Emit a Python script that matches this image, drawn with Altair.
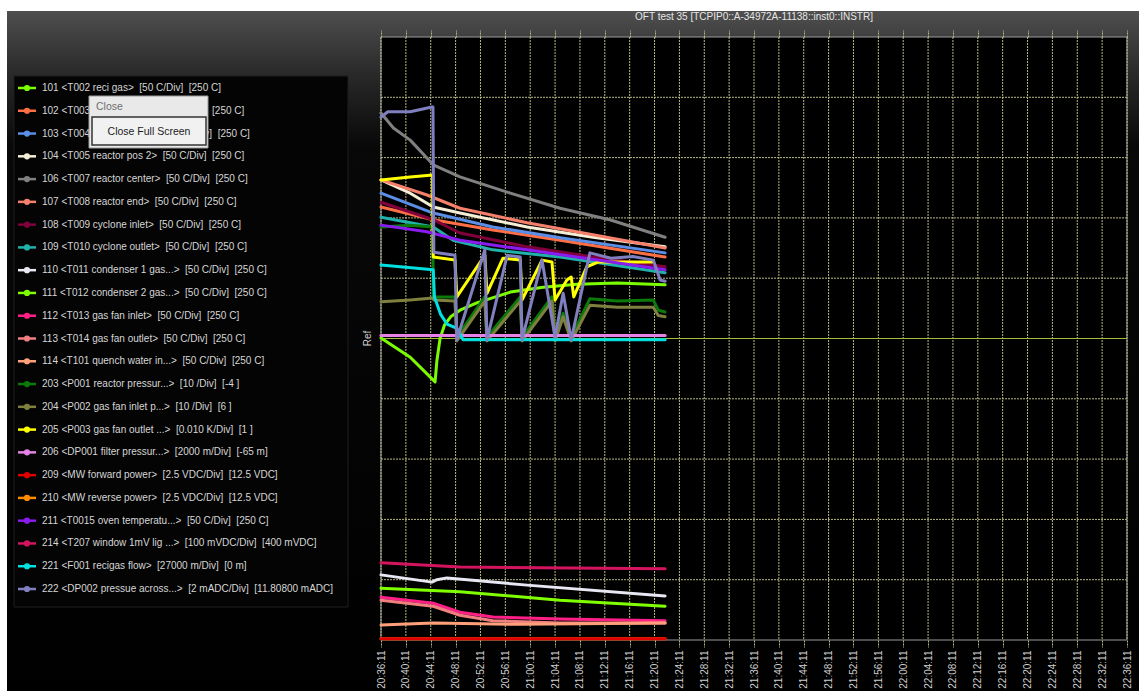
import altair as alt
import pandas as pd

# ---------------------------------------------------------------------------
# Recorder settings
# ---------------------------------------------------------------------------
TITLE = "OFT test 35 [TCPIP0::A-34972A-11138::inst0::INSTR]"
START_CLOCK = "20:36:11"          # left edge of the time axis
SPAN_MIN = 120                    # minutes shown across the screen
TICK_STEP_MIN = 4                 # minutes per vertical division
DIV_HALF = 5                      # divisions above / below the Ref line

# ---------------------------------------------------------------------------
# Channels (legend order)
# ---------------------------------------------------------------------------
keys = ["s101", "s102", "s103", "s104", "s106", "s107", "s108", "s109",
        "s110", "s111", "s112", "s113", "s114", "s203", "s204", "s205",
        "s206", "s209", "s210", "s211", "s214", "s221", "s222"]
GAP = "\u00a0 "   # the recorder pads the two bracket fields with a double space
labels = [
    "101 <T002 reci gas>" + GAP + "[50 C/Div]" + GAP + "[250 C]",
    "102 <T003 reactor pos 1>" + GAP + "[50 C/Div]" + GAP + "[250 C]",
    "103 <T004 reactor pos 1b>" + GAP + "[50 C/Div]" + GAP + "[250 C]",
    "104 <T005 reactor pos 2>" + GAP + "[50 C/Div]" + GAP + "[250 C]",
    "106 <T007 reactor center>" + GAP + "[50 C/Div]" + GAP + "[250 C]",
    "107 <T008 reactor end>" + GAP + "[50 C/Div]" + GAP + "[250 C]",
    "108 <T009 cyclone inlet>" + GAP + "[50 C/Div]" + GAP + "[250 C]",
    "109 <T010 cyclone outlet>" + GAP + "[50 C/Div]" + GAP + "[250 C]",
    "110 <T011 condenser 1 gas...>" + GAP + "[50 C/Div]" + GAP + "[250 C]",
    "111 <T012 condenser 2 gas...>" + GAP + "[50 C/Div]" + GAP + "[250 C]",
    "112 <T013 gas fan inlet>" + GAP + "[50 C/Div]" + GAP + "[250 C]",
    "113 <T014 gas fan outlet>" + GAP + "[50 C/Div]" + GAP + "[250 C]",
    "114 <T101 quench water in...>" + GAP + "[50 C/Div]" + GAP + "[250 C]",
    "203 <P001 reactor pressur...>" + GAP + "[10 /Div]" + GAP + "[-4 ]",
    "204 <P002 gas fan inlet p...>" + GAP + "[10 /Div]" + GAP + "[6 ]",
    "205 <P003 gas fan outlet ...>" + GAP + "[0.010 K/Div]" + GAP + "[1 ]",
    "206 <DP001 filter pressur...>" + GAP + "[2000 m/Div]" + GAP + "[-65 m]",
    "209 <MW forward power>" + GAP + "[2.5 VDC/Div]" + GAP + "[12.5 VDC]",
    "210 <MW reverse power>" + GAP + "[2.5 VDC/Div]" + GAP + "[12.5 VDC]",
    "211 <T0015 oven temperatu...>" + GAP + "[50 C/Div]" + GAP + "[250 C]",
    "214 <T207 window 1mV lig ...>" + GAP + "[100 mVDC/Div]" + GAP + "[400 mVDC]",
    "221 <F001 recigas flow>" + GAP + "[27000 m/Div]" + GAP + "[0 m]",
    "222 <DP002 pressue across...>" + GAP + "[2 mADC/Div]" + GAP + "[11.80800 mADC]",
]
colors = ["#7cfc00", "#ff6f45", "#5b8ee6", "#f4eed6", "#808080", "#f7806c",
          "#80003c", "#20b2aa", "#e8e8f4", "#7fff00", "#ff1f86", "#f08080",
          "#ffa07a", "#0b7a0b", "#7f7f3f", "#ffff00", "#e682e6", "#e00000",
          "#ff8c00", "#8a1cf0", "#d4145f", "#00e0e0", "#8080c0"]
widths = [3, 3, 3, 3, 5, 3, 3, 3, 3.5, 3, 3.5, 3, 3, 3.5, 3, 3, 3, 4, 3, 3, 3.5, 3, 3]

# drawing order of the traces (forward power is painted over reverse power)
draw_order = ["s101", "s102", "s103", "s104", "s106", "s107", "s108", "s109",
              "s110", "s111", "s112", "s113", "s114", "s203", "s204", "s205",
              "s206", "s210", "s209", "s211", "s214", "s221", "s222"]

# ---------------------------------------------------------------------------
# Recorded traces: minutes after START_CLOCK, divisions from the Ref line
# ---------------------------------------------------------------------------
T101 = [0, 4.7, 8.7, 9.0, 9.5, 10.2, 11.2, 12.7, 15.4, 20.8, 26.1, 31.5, 38.0, 45.7]
V101 = [0.01, -0.31, -0.72, -0.36, 0.0, 0.22, 0.36, 0.47, 0.59, 0.77, 0.85, 0.90, 0.92, 0.89]

T102 = [0, 8.4, 18.0, 28.8, 45.7]
V102 = [2.18, 1.97, 1.80, 1.63, 1.35]

T103 = [0, 8.4, 18.0, 28.8, 45.7]
V103 = [2.41, 2.08, 1.85, 1.67, 1.42]

T104 = [0, 4.7, 8.4, 12.7, 23.5, 34.1, 45.7]
V104 = [2.63, 2.41, 2.18, 2.08, 1.85, 1.68, 1.52]

T106 = [0, 2.0, 4.7, 8.4, 12.7, 20.8, 28.8, 36.8, 45.7]
V106 = [3.74, 3.49, 3.29, 2.88, 2.68, 2.41, 2.16, 1.97, 1.68]

T107 = [0, 7.4, 12.7, 23.5, 34.1, 45.7]
V107 = [2.63, 2.38, 2.16, 1.92, 1.72, 1.50]

T108 = [0, 8.4, 12.7, 23.5, 34.1, 45.7]
V108 = [2.26, 1.97, 1.75, 1.52, 1.35, 1.19]

T109 = [0, 8.4, 11.6, 18.0, 28.8, 45.7]
V109 = [2.01, 1.85, 1.63, 1.47, 1.35, 1.09]

T110 = [0, 8.2, 9.0, 10.6, 23.5, 45.7]
V110 = [-3.92, -4.04, -4.00, -3.97, -4.09, -4.27]

T111 = [0, 12.7, 28.8, 45.7]
V111 = [-4.14, -4.20, -4.34, -4.44]

T112 = [0, 8.4, 12.7, 18.0, 28.8, 45.7]
V112 = [-4.29, -4.39, -4.54, -4.62, -4.65, -4.68]

T113 = [0, 8.4, 12.7, 18.0, 28.8, 45.7]
V113 = [-4.34, -4.44, -4.59, -4.68, -4.72, -4.72]

T114 = [0, 8.4, 22.4, 45.7]
V114 = [-4.75, -4.72, -4.74, -4.72]

T203 = [0, 4.7, 8.3, 8.45, 11.9, 12.2, 16.7, 17.05, 22.4, 22.7, 27.5, 28.0, 29.3, 30.6, 33.6, 38.0, 43.8, 44.6, 45.7]
V203 = [1.85, 1.88, 1.85, 0.69, 0.69, 0.02, 0.69, 0.02, 0.69, 0.02, 0.69, 0.02, 0.42, 0.02, 0.66, 0.62, 0.64, 0.47, 0.44]

T204 = [0, 4.7, 8.3, 8.5, 11.9, 12.2, 16.7, 17.05, 22.4, 22.7, 27.5, 28.0, 29.3, 30.6, 33.6, 38.0, 43.8, 44.6, 45.7]
V204 = [0.61, 0.64, 0.67, 0.64, 0.62, -0.04, 0.62, -0.04, 0.62, -0.04, 0.62, -0.04, 0.36, -0.04, 0.55, 0.52, 0.52, 0.38, 0.36]

T205 = [0, 4.7, 8.3, 8.4, 11.9, 12.2, 16.7, 17.05, 19.6, 22.4, 22.7, 25.9, 27.5, 28.0, 29.9, 30.6, 31.0, 33.1, 35.0, 43.8]
V205 = [2.63, 2.68, 2.71, 1.35, 1.30, 0.69, 1.38, 0.75, 1.33, 1.30, 0.64, 1.30, 1.27, 0.64, 0.97, 1.02, 0.69, 1.19, 1.27, 1.27]

T206 = [0, 45.7]
V206 = [0.05, 0.05]

T209 = [0, 45.7]
V209 = [-4.98, -4.98]

T210 = [0, 45.7]
V210 = [-4.98, -4.98]

T211 = [0, 7.4, 12.7, 23.5, 45.7]
V211 = [1.88, 1.77, 1.63, 1.47, 1.14]

T214 = [0, 12.7, 45.7]
V214 = [-3.72, -3.79, -3.82]

T221 = [0, 8.4, 8.6, 9.6, 10.6, 12.2, 13.2, 45.7]
V221 = [1.22, 1.14, 0.69, 0.40, 0.24, 0.17, -0.02, -0.02]

T222 = [0, 1.1, 4.7, 8.2, 8.36, 8.5, 11.9, 12.2, 16.7, 17.05, 20.3, 22.4, 22.7, 25.9, 28.0, 29.3, 30.6, 33.6, 37.0, 40.5, 43.8, 44.9, 45.7]
V222 = [3.67, 3.76, 3.76, 3.84, 3.84, 1.43, 1.38, -0.02, 1.47, -0.02, 1.38, 1.35, -0.02, 1.30, 0.02, 0.75, -0.02, 1.42, 1.33, 1.36, 1.30, 0.97, 0.95]

traces = {
    "s101": (T101, V101), "s102": (T102, V102), "s103": (T103, V103),
    "s104": (T104, V104), "s106": (T106, V106), "s107": (T107, V107),
    "s108": (T108, V108), "s109": (T109, V109), "s110": (T110, V110),
    "s111": (T111, V111), "s112": (T112, V112), "s113": (T113, V113),
    "s114": (T114, V114), "s203": (T203, V203), "s204": (T204, V204),
    "s205": (T205, V205), "s206": (T206, V206), "s209": (T209, V209),
    "s210": (T210, V210), "s211": (T211, V211), "s214": (T214, V214),
    "s221": (T221, V221), "s222": (T222, V222),
}

# ---------------------------------------------------------------------------
# Tables
# ---------------------------------------------------------------------------
rows = []
for k in draw_order:
    ts, vs = traces[k]
    for i, (t, v) in enumerate(zip(ts, vs)):
        rows.append({"key": k, "i": i, "t": t, "v": v})
trace_df = pd.DataFrame(rows)

time_ticks = list(range(0, SPAN_MIN + 1, TICK_STEP_MIN))
div_ticks = list(range(-DIV_HALF + 1, DIV_HALF))
vgrid_df = pd.DataFrame({"t": time_ticks})
hgrid_df = pd.DataFrame({"v": [d for d in div_ticks if d != 0]})
legend_df = pd.DataFrame({"idx": list(range(len(keys))), "key": keys, "label": labels})
one = pd.DataFrame({"k": [0]})

h, m, s = (int(p) for p in START_CLOCK.split(":"))
start_s = h * 3600 + m * 60 + s
clock_expr = f"utcFormat(({start_s} + datum.value * 60) * 1000, '%H:%M:%S')"

W, H = 746, 603
FONT = "Liberation Sans"
GRID = "#b9b985"
x_scale = alt.Scale(domain=[0, SPAN_MIN], nice=False, zero=False)
y_scale = alt.Scale(domain=[-DIV_HALF, DIV_HALF], nice=False, zero=False)
color_scale = alt.Scale(domain=keys, range=colors)

# ---------------------------------------------------------------------------
# Screen furniture
# ---------------------------------------------------------------------------
panel = alt.Chart(one).mark_rect(
    fill={"gradient": "linear", "x1": 0, "x2": 0, "y1": 0, "y2": 1,
          "stops": [{"offset": 0, "color": "#4f4f4f"},
                    {"offset": 0.09, "color": "#2a2a2a"},
                    {"offset": 0.2, "color": "#080808"},
                    {"offset": 1, "color": "#000000"}]}
).encode(x=alt.value(-374), x2=alt.value(W + 12), y=alt.value(-26), y2=alt.value(H + 51))

legend_box = alt.Chart(one).mark_rect(fill="#040404", stroke="#1e1e1e", strokeWidth=1).encode(
    x=alt.value(-367), x2=alt.value(-33), y=alt.value(39), y2=alt.value(570))

plot_bg = alt.Chart(one).mark_rect(fill="#000000").encode(
    x=alt.value(0), x2=alt.value(W), y=alt.value(0), y2=alt.value(H))

frame = alt.Chart(one).mark_rect(fillOpacity=0, stroke="#9c9c9c", strokeWidth=1).encode(
    x=alt.value(0), x2=alt.value(W), y=alt.value(0), y2=alt.value(H))

vgrid = alt.Chart(vgrid_df).mark_rule(color=GRID, strokeWidth=1, strokeDash=[2, 1]).encode(
    x=alt.X("t:Q", scale=x_scale,
            axis=alt.Axis(orient="top", values=time_ticks, labels=False, title=None,
                          domain=False, grid=False, ticks=True, tickSize=7,
                          tickColor=GRID, tickDash=[2, 1], zindex=1)))

hgrid = alt.Chart(hgrid_df).mark_rule(color=GRID, strokeWidth=1, strokeDash=[2, 1]).encode(
    y=alt.Y("v:Q", scale=y_scale,
            axis=alt.Axis(values=div_ticks, labels=False, title=None, domain=False,
                          grid=False, ticks=True, tickSize=6, tickColor=GRID,
                          tickDash=[2, 1], zindex=1)))

ref_line = alt.Chart(one).mark_rule(color="#a6ba3c", strokeWidth=1.2).encode(
    y=alt.datum(0, scale=y_scale))

ref_text = alt.Chart(one).mark_text(
    angle=270, align="center", baseline="middle", font=FONT, fontSize=10, color="#d0d0d0"
).encode(x=alt.value(-13.5), y=alt.datum(0), text=alt.value("Ref"))

title = alt.Chart(one).mark_text(
    align="center", baseline="middle", font=FONT, fontSize=10, color="#e6e6e6"
).encode(x=alt.value(W / 2), y=alt.value(-20), text=alt.value(TITLE))

lines = alt.Chart(trace_df).mark_line(strokeJoin="round", strokeCap="round").encode(
    x=alt.X("t:Q", scale=x_scale,
            axis=alt.Axis(values=time_ticks, labelExpr=clock_expr, labelAngle=270,
                          labelColor="#cfcfcf", labelFont=FONT, labelFontSize=10,
                          labelPadding=3, labelOverlap=False, labelFlush=False,
                          labelBound=False, domain=False, grid=False, tickSize=7,
                          tickColor=GRID, tickDash=[2, 1], title=None, zindex=1)),
    y=alt.Y("v:Q", scale=y_scale, axis=None),
    color=alt.Color("key:N", scale=color_scale, legend=None),
    size=alt.Size("key:N", scale=alt.Scale(domain=keys, range=widths), legend=None),
    order=alt.Order("i:Q"),
)

main = alt.layer(panel, legend_box, plot_bg, frame, vgrid, hgrid, ref_line,
                 lines, ref_text, title).resolve_axis(x="independent")

# ---------------------------------------------------------------------------
# Channel legend
# ---------------------------------------------------------------------------
leg_y = alt.Y("idx:Q", scale=alt.Scale(domain=[0, len(keys) - 1], range=[51, 552]), axis=None)
leg_color = alt.Color("key:N", scale=color_scale, legend=None)

leg_line = alt.Chart(legend_df).mark_rule(strokeWidth=2.5).encode(
    x=alt.value(-363), x2=alt.value(-345), y=leg_y, color=leg_color)
leg_dot = alt.Chart(legend_df).mark_circle(size=38, opacity=1).encode(
    x=alt.value(-354), y=leg_y, color=leg_color)
leg_text = alt.Chart(legend_df).mark_text(
    align="left", baseline="middle", font=FONT, fontSize=10, color="#d6d6d6"
).encode(x=alt.value(-339), y=leg_y, text="label:N")

legend = alt.layer(leg_line, leg_dot, leg_text)

# ---------------------------------------------------------------------------
# Context menu
# ---------------------------------------------------------------------------
menu_box = alt.Chart(one).mark_rect(fill="#e9e9ea", stroke="#9a9a9a", strokeWidth=1).encode(
    x=alt.value(-292), x2=alt.value(-173), y=alt.value(59), y2=alt.value(111))
menu_btn = alt.Chart(one).mark_rect(fill="#f1f1f1", stroke="#333333", strokeWidth=1.5).encode(
    x=alt.value(-289), x2=alt.value(-175), y=alt.value(80), y2=alt.value(108))
menu_head = alt.Chart(one).mark_text(
    align="left", baseline="middle", font=FONT, fontSize=10.5, color="#6e6e6e"
).encode(x=alt.value(-285), y=alt.value(70), text=alt.value("Close"))
menu_item = alt.Chart(one).mark_text(
    align="center", baseline="middle", font=FONT, fontSize=10.5, color="#1c1c1c"
).encode(x=alt.value(-232), y=alt.value(94.5), text=alt.value("Close Full Screen"))

menu = alt.layer(menu_box, menu_btn, menu_head, menu_item)

chart = alt.layer(main, legend, menu).resolve_scale(y="independent").properties(
    width=W, height=H,
    padding={"left": 381, "top": 37, "right": 12, "bottom": 51},
    autosize=alt.AutoSizeParams(type="none"),
).configure(background="#ffffff").configure_view(stroke="transparent")

chart.save("out.html", embed_options={"renderer": "svg", "actions": False})
